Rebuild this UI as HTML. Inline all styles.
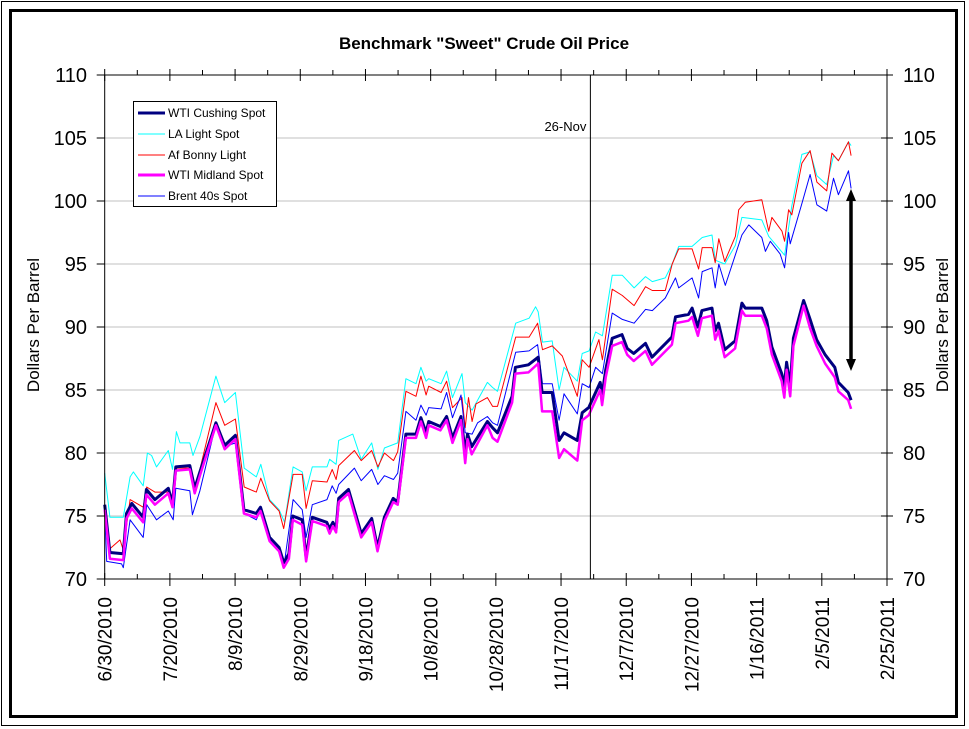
<!DOCTYPE html>
<html><head><meta charset="utf-8"><style>
html,body{margin:0;padding:0;background:#fff;}
svg{display:block;font-family:"Liberation Sans",Arial,sans-serif;}
</style></head><body>
<svg id="chart" width="969" height="729" viewBox="0 0 969 729">
<rect x="1.5" y="1.5" width="963" height="724" fill="#fff" stroke="#000" stroke-width="1"/>
<rect x="10.5" y="10.5" width="946" height="706" fill="none" stroke="#000" stroke-width="3"/>
<text x="484" y="49" text-anchor="middle" font-size="17" font-weight="bold">Benchmark "Sweet" Crude Oil Price</text>
<g id="grid"></g>
<g id="series"></g>
<g id="axes"></g>
<text transform="translate(39,325) rotate(-90)" text-anchor="middle" font-size="17">Dollars Per Barrel</text>
<text transform="translate(948,325) rotate(-90)" text-anchor="middle" font-size="17">Dollars Per Barrel</text>
<g>
<rect x="133.5" y="101.5" width="143" height="105" fill="#fff" stroke="#000" stroke-width="1"/>
<g><line x1="138" y1="113" x2="165" y2="113" stroke="#000080" stroke-width="3"/><text x="168" y="117" font-size="12">WTI Cushing Spot</text></g>
<g><line x1="138" y1="134" x2="165" y2="134" stroke="#00FFFF" stroke-width="1"/><text x="168" y="138" font-size="12">LA Light Spot</text></g>
<g><line x1="138" y1="155" x2="165" y2="155" stroke="#FF0000" stroke-width="1"/><text x="168" y="159" font-size="12">Af Bonny Light</text></g>
<g><line x1="138" y1="175" x2="165" y2="175" stroke="#FF00FF" stroke-width="3"/><text x="168" y="179" font-size="12">WTI Midland Spot</text></g>
<g><line x1="138" y1="196" x2="165" y2="196" stroke="#0000FF" stroke-width="1"/><text x="168" y="200" font-size="12">Brent 40s Spot</text></g>
</g>
</svg>
<script>
const yTicks=[70,75,80,85,90,95,100,105,110];
const xTickLabels=["6/30/2010","7/20/2010","8/9/2010","8/29/2010","9/18/2010","10/8/2010","10/28/2010","11/17/2010","12/7/2010","12/27/2010","1/16/2011","2/5/2011","2/25/2011"];
const annotationDay=149;
const annotationLabel="26-Nov";
// days since 6/30/2010
const cyanDays=[0,1.6,5.7,7.8,8.8,11.8,13.1,14.4,15.9,19.5,20.8,22,23.1,26.1,27.1,29.2,34.1,36.8,40.1,42.8,46.5,47.9,50.6,53.5,55.2,57.8,60.6,61.8,63.7,68.2,69,71,71.8,76.1,78.7,81.9,83.8,85.8,89.9,92.4,95.5,97,98.6,99.4,103.2,104.9,106.7,109.6,110.6,112.7,117.4,119,120.5,126.1,130.2,132.2,133,134.3,137.3,139.4,140.9,145,146.5,148.6,150.6,152.7,155.7,158.8,162.4,165.9,168,172,174.1,176.1,180.2,183.3,186.3,187.3,190.2,193.5,195.5,201.6,203.7,208.6,210.8,213.9,216.4,218.5,221.5,223.6,225.1,228.2,229];
const cyanVals=[78.4,74.9,74.9,78.1,78.5,77.4,80.0,79.8,78.9,80.2,78.7,81.7,80.8,80.8,79.8,81.3,86.1,84.0,84.8,78.8,78.1,79.1,76.3,75.5,74.5,78.9,78.5,77.0,78.9,78.9,79.5,79.1,81.0,81.5,79.5,80.8,78.7,80.4,80.8,85.9,85.5,86.8,85.7,85.9,85.5,86.5,84.4,86.3,84.0,83.4,85.6,85.2,84.9,90.3,90.7,91.6,91.2,88.8,88.9,85.0,86.8,85.7,87.9,88.1,89.6,89.3,94.1,94.1,93.1,94.0,93.6,93.9,95.0,96.4,96.4,97.1,97.3,95.3,95.0,96.5,98.7,98.5,97.2,95.7,99.6,103.7,103.9,102.0,101.3,103.6,103.2,104.7,104.4];
const redDays=[0,1.6,4.7,5.7,7.8,11.8,12.9,15.4,19.5,20.8,21.8,26.1,27.7,29.2,34.1,36.8,40.1,42.8,46.5,47.9,50.6,53.5,54.9,57.8,60.6,61.8,63.7,68.2,69.8,71,71.8,76.6,78.7,81.9,83.8,85.8,88.6,89.9,92.4,95.5,97,98.6,99.4,103.2,104.9,106.7,109.6,110.6,111.6,112.7,113.9,117.4,119,120.5,126.1,130.2,132.8,134.3,137.3,140.4,145,146.5,148.6,151.6,152.7,155.7,158.8,162.4,165.9,168,172,174.1,176.1,180.2,182.2,183.3,186.3,187.3,188.4,190.2,193.5,194.5,196.5,201.6,203.7,204.7,207.8,208.6,209.8,210.8,213.9,216.4,218.5,221.5,223.1,225.1,228.2,229];
const redVals=[75.2,72.4,73.1,72.3,76.3,75.7,77.3,76.9,76.9,76.4,78.8,78.8,77.2,78.7,84.0,82.2,82.7,77.3,76.9,78.0,76.2,75.4,74.0,78.3,78.3,75.6,77.8,77.7,78.7,77.9,79.0,80.2,79.4,80.2,78.9,80.0,79.4,80.1,84.9,84.5,86.1,84.6,85.3,84.8,85.7,83.6,84.4,82.0,84.4,82.5,83.9,84.4,83.7,83.7,89.2,89.2,90.3,88.2,88.5,87.7,84.5,87.4,86.8,89.0,87.4,93.0,92.5,91.7,93.2,92.9,92.9,95.0,96.2,96.2,94.6,96.3,96.3,95.1,97.0,95.2,97.2,99.3,99.9,100.1,97.6,98.7,97.6,96.8,99.3,98.9,103.0,104.0,101.5,100.8,103.8,103.2,104.7,103.6];
const blueDays=[0,0.6,5.2,5.7,7.8,11.8,12.9,15.9,19.5,21,21.8,26.1,26.9,29.2,34.1,36.8,40.1,42.8,46.5,47.9,50.6,53.5,55.2,57.8,60.6,61.8,63.7,68.2,69.8,71,71.8,76.6,78.7,81.9,83.8,85.8,88.6,89.9,92.4,95.5,97,98.6,99.4,103.2,104.9,106.7,109.3,110.6,112.7,114.4,117.4,119,120.5,126.1,130.2,132.8,134.3,137.3,139.4,140.9,145,146.5,148.6,150.6,152.7,155.7,158.8,162.4,165.9,168,172,175.1,176.1,180.2,182.2,183.3,186.3,187.3,188.4,190.4,195.5,197.6,201.6,202.7,204.2,207.2,208.6,209.8,210.3,213.9,216.4,218.5,221.5,223.6,225.1,228.2,229];
const blueVals=[75.5,71.4,71.2,70.9,74.7,73.3,75.9,74.7,75.4,74.7,77.2,77.0,75.1,77.0,82.3,80.5,80.8,75.2,74.7,75.5,73.3,72.4,71.4,76.3,75.5,73.3,75.9,76.3,77.4,76.8,77.5,78.8,77.8,78.7,77.5,78.2,77.9,78.4,83.3,82.6,83.8,83.0,83.6,83.5,84.8,82.8,84.6,81.6,81.5,82.4,82.9,82.4,82.2,88.0,88.1,88.6,85.5,85.5,82.6,84.7,83.1,85.5,85.2,86.8,86.3,91.1,90.6,90.3,91.4,91.3,92.3,93.9,93.1,93.9,92.3,94.4,94.7,93.1,95.0,93.3,97.3,98.1,97.1,96.0,96.8,95.8,94.7,97.5,96.6,99.8,102.1,99.7,99.2,101.8,100.5,102.4,101.0];
const wtiDays=[0,1.6,5.7,6.7,8.3,11.8,12.8,15.4,19.5,20.8,21.8,26.1,27.6,29.2,34.1,36.8,40.1,42.7,46.5,47.8,50.6,53.5,54.9,56.5,57.7,60.6,61.8,63.7,68.1,69,70,71,71.8,74.8,78.7,81.9,83.7,85.8,88.5,89.9,92.4,95.5,97,98.6,99.4,103,104.9,106.7,109.3,110.6,111.3,112.6,117.4,119,120.5,125,126,130,133,134.2,137.3,139.4,140.9,145,146.5,148.5,150.6,152,152.6,153.7,155.7,158.7,160.3,162.3,165.9,167.9,174,175.1,179.1,180.2,182,183.2,186.3,187.3,188.3,190.2,193.4,195.5,196.5,201.6,203.1,204.7,207.7,208.5,209.2,210.3,211.3,214.4,216.4,218.4,221,224,225.1,228.1,229];
const wtiVals=[75.9,72.1,72.0,75.2,76.0,74.9,77.1,76.3,77.2,76.0,78.9,79.0,77.2,78.5,82.4,80.6,81.4,75.5,75.2,75.7,73.3,72.5,71.3,72.0,75.0,74.7,71.7,74.9,74.5,74.0,74.5,74.0,76.4,77.1,73.6,74.8,72.5,74.9,76.4,76.1,81.5,81.5,82.8,81.6,82.5,82.1,82.9,81.2,82.9,80.0,81.5,80.5,82.5,82.0,81.6,84.5,86.8,87.0,87.6,84.8,84.8,81.0,81.6,81.0,83.2,83.6,84.8,85.6,84.6,86.6,89.1,89.4,88.3,87.9,88.7,87.6,89.2,90.8,91.0,91.5,90.0,91.3,91.5,89.7,90.3,88.2,88.9,91.9,91.5,91.5,90.5,88.4,86.3,85.3,87.2,85.3,89.1,92.1,90.6,89.0,87.8,86.8,85.6,84.8,84.2];
const midDays=[0,1.6,5.7,6.7,8.3,11.8,12.8,15.4,19.5,20.8,21.8,26.1,27.6,29.2,34.1,36.8,40.1,42.7,46.5,47.8,50.6,53.5,54.9,56.5,57.7,60.6,61.8,63.7,68.1,69,70,71,71.8,74.8,78.7,81.9,83.7,85.8,88.5,89.9,92.4,95.5,97,98.6,99.4,103,104.9,106.7,109.3,110.6,111.3,112.6,117.4,119,120.5,125,126,130,133,134.2,137.3,139.4,140.9,145,146.5,148.5,150.6,152,152.6,153.7,155.7,158.7,160.3,162.3,165.9,167.9,174,175.1,179.1,180.2,182,183.2,186.3,187.3,188.3,190.2,193.4,195.5,196.5,201.6,203.1,204.7,207.7,208.5,209.2,210.3,211.3,214.4,216.4,218.4,221,224,225.1,228.1,229];
const midVals=[75.5,71.6,71.5,74.8,75.6,74.5,76.7,75.9,76.8,75.7,78.6,78.7,76.8,78.2,82.2,80.3,81.1,75.2,74.9,75.4,73.0,72.2,70.9,71.6,74.7,74.3,71.4,74.6,74.2,73.6,74.2,73.7,76.1,76.8,73.3,74.5,72.2,74.6,76.1,75.9,81.2,81.2,82.5,81.2,82.2,81.8,82.6,80.8,82.6,79.2,81.1,79.9,82.2,81.2,80.9,84.0,86.3,86.4,87.1,83.3,83.3,79.6,80.3,79.4,82.6,83.0,84.2,85.0,83.8,86.0,88.5,88.8,87.8,87.3,88.1,87.0,88.6,90.3,90.5,90.8,89.3,90.7,90.9,89.0,89.7,87.6,88.3,91.3,90.9,90.9,89.9,87.8,85.7,84.4,86.6,84.5,88.5,91.7,89.9,88.5,87.1,86.0,84.9,84.2,83.5];

const NS="http://www.w3.org/2000/svg";
const X0=104.7,X1=887,Y0=579,Y1=75,DMAX=240,VMIN=70,VMAX=110;
function xs(d){return X0+(d/DMAX)*(X1-X0);}
function ys(v){return Y0-(v-VMIN)/(VMAX-VMIN)*(Y0-Y1);}
function mk(tag,attrs,parent){const e=document.createElementNS(NS,tag);for(const k in attrs)e.setAttribute(k,attrs[k]);parent.appendChild(e);return e;}
const grid=document.getElementById('grid'),axes=document.getElementById('axes'),ser=document.getElementById('series');
yTicks.forEach(v=>{
  if(v>VMIN&&v<VMAX){const g=mk('line',{x1:X0,x2:X1,y1:ys(v),y2:ys(v),stroke:'#c0c0c0','stroke-width':1},grid);
  
  }
  const tl=mk('line',{x1:X0-8,x2:X0,y1:ys(v),y2:ys(v),stroke:'#000'},axes);
  
  
  const tr=mk('line',{x1:X1-6,x2:X1+6,y1:ys(v),y2:ys(v),stroke:'#000'},axes);
  
  
  const l=mk('text',{x:87,y:ys(v)+7,'text-anchor':'end','font-size':20},axes);l.textContent=v;
  
  
  const r=mk('text',{x:903,y:ys(v)+7,'text-anchor':'start','font-size':20},axes);r.textContent=v;
  
  
});
// axes lines
[[X0,Y1,X0,Y0],[X1,Y1,X1,Y0],[X0,Y0,X1,Y0],[X0,Y1,X1,Y1]].forEach(a=>{
  const ln=mk('line',{x1:a[0],y1:a[1],x2:a[2],y2:a[3],stroke:'#000','stroke-width':1},axes);
  
  
});
xTickLabels.forEach((lab,i)=>{
  const d=i*20,x=xs(d);
  const tb=mk('line',{x1:x,x2:x,y1:Y0-6,y2:Y0+7,stroke:'#000'},axes);
  
  
  const tt=mk('line',{x1:x,x2:x,y1:Y1-6,y2:Y1+6,stroke:'#000'},axes);
  
  
  if(i<xTickLabels.length-1){const xm=xs(d+10);
    const m1=mk('line',{x1:xm,x2:xm,y1:Y0-5,y2:Y0,stroke:'#000'},axes);
    
    
    const m2=mk('line',{x1:xm,x2:xm,y1:Y1-5,y2:Y1,stroke:'#000'},axes);
    
    }
  const t=mk('text',{transform:'translate('+(x+7)+',597) rotate(-90)','text-anchor':'end','font-size':19},axes);t.textContent=lab;
  
  
});
// annotation line
const ax=xs(annotationDay);
const al=mk('line',{x1:ax,x2:ax,y1:Y1,y2:Y0,stroke:'#000','stroke-width':1},axes);


const at=mk('text',{x:ax-4,y:131,'text-anchor':'end','font-size':13},axes);at.textContent=annotationLabel;


function series(days,vals,color,w,name){
  const p=mk('polyline',{points:days.map((d,i)=>xs(d).toFixed(1)+','+ys(vals[i]).toFixed(1)).join(' '),fill:'none',stroke:color,'stroke-width':w,'stroke-linejoin':'round'},ser);
  
  
}
series(cyanDays,cyanVals,'#00FFFF',1,'series-la-light');
series(redDays,redVals,'#FF0000',1,'series-bonny-light');
series(blueDays,blueVals,'#0000FF',1,'series-brent');
series(wtiDays,wtiVals,'#000080',3,'series-wti-cushing');
series(midDays,midVals,'#FF00FF',2.5,'series-wti-midland');
// double arrow
const arr=mk('g',{},ser);


mk('line',{x1:851,x2:851,y1:198,y2:362,stroke:'#000','stroke-width':3.5},arr);
mk('polygon',{points:'851,189 846,201 856,201',fill:'#000'},arr);
mk('polygon',{points:'851,371 846,359 856,359',fill:'#000'},arr);
</script>
</body></html>
